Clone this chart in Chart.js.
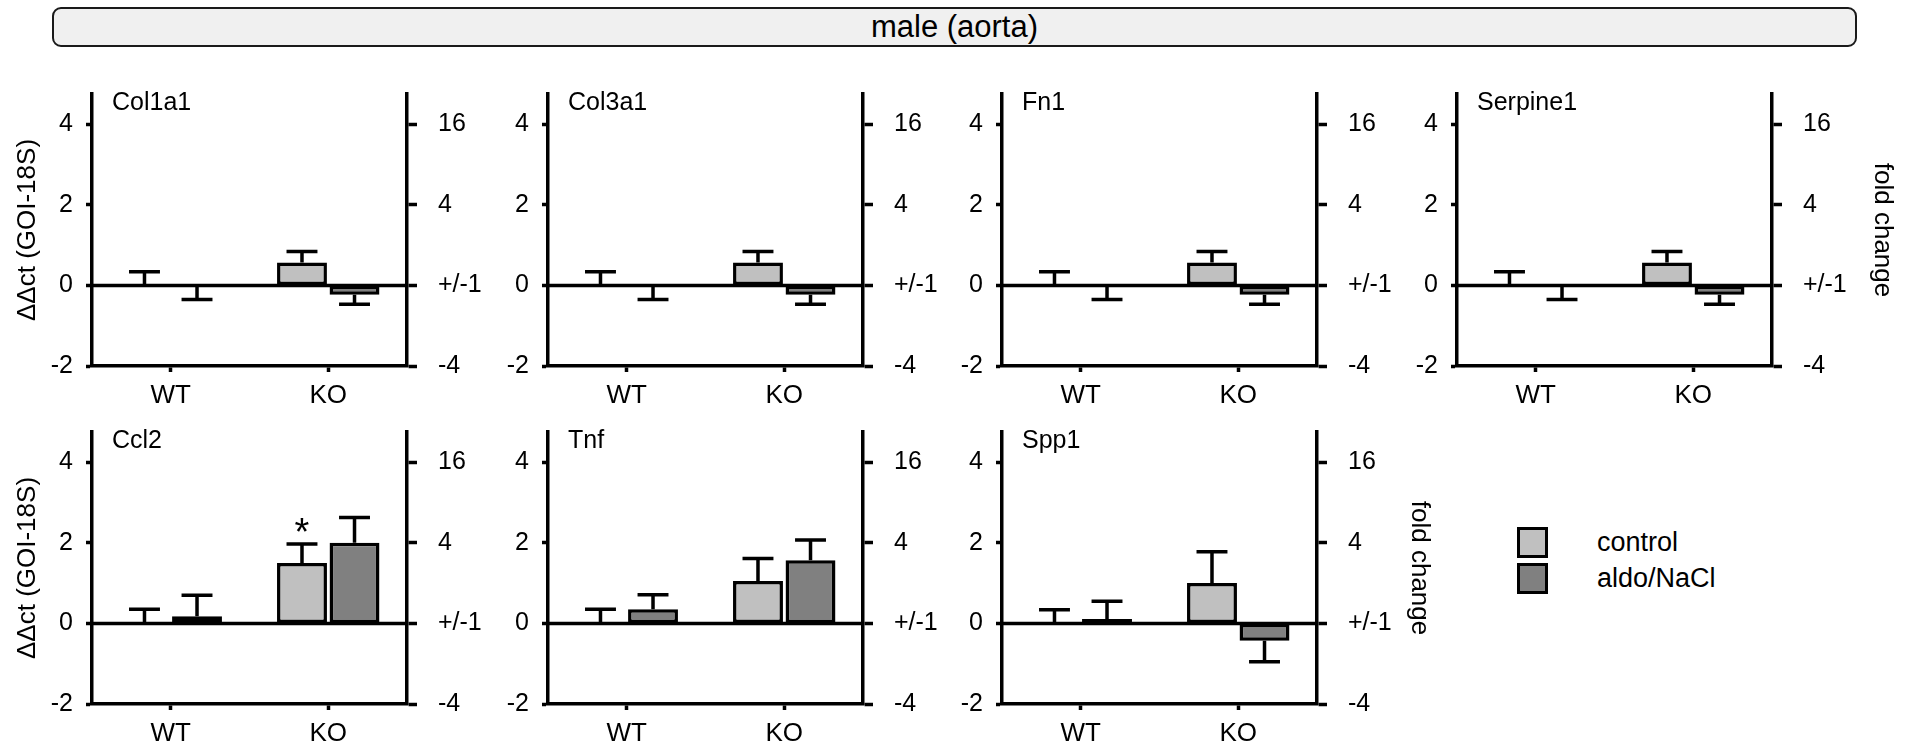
<!DOCTYPE html>
<html>
<head>
<meta charset="utf-8">
<script src="https://cdn.jsdelivr.net/npm/chart.js@4.4.1/dist/chart.umd.min.js"></script>
<style>
  body { margin: 0; background: #fff; width: 1907px; height: 752px; position: relative; overflow: hidden;
         font-family: "Liberation Sans", Arial, sans-serif; color: #000; }
  #header { position: absolute; left: 52px; top: 7px; width: 1805px; height: 40px; box-sizing: border-box;
            border: 2px solid #1a1a1a; border-radius: 9px; background: #f0f0f0;
            text-align: center; font-size: 31px; line-height: 35px; }
  .panel { position: absolute; }
  .panel canvas { display: block; }
  #legend { position: absolute; left: 1517px; top: 527px; }
  .item { position: relative; height: 36px; }
  .swatch { position: absolute; left: 0; width: 31px; height: 31px; box-sizing: border-box; border: 3px solid #000; }
  .label { position: absolute; left: 80px; top: 0; font-size: 27px; line-height: 31px; white-space: nowrap; }
</style>
</head>
<body>
<div id="header">male (aorta)</div>
<div id="legend"></div>

<script>
// categories and series
const categories = ['WT', 'KO'];
const seriesNames = ['control', 'aldo/NaCl'];
const seriesColors = ['#c0c0c0', '#808080'];
const genes = ['Col1a1', 'Col3a1', 'Fn1', 'Serpine1', 'Ccl2', 'Tnf', 'Spp1'];

// ΔΔct means and SEM per gene, [WT, KO]
const controlMean = [[0, 0.57], [0, 0.57], [0, 0.57], [0, 0.57], [0, 1.5], [0, 1.05], [0, 1.0]];
const controlErr  = [[0.34, 0.27], [0.34, 0.27], [0.34, 0.27], [0.34, 0.27], [0.35, 0.47], [0.35, 0.56], [0.34, 0.78]];
const aldoMean    = [[-0.02, -0.23], [-0.02, -0.23], [-0.02, -0.23], [-0.02, -0.23], [0.18, 2.0], [0.35, 1.57], [0.11, -0.43]];
const aldoErr     = [[0.33, 0.24], [0.33, 0.24], [0.33, 0.24], [0.33, 0.24], [0.52, 0.63], [0.36, 0.5], [0.44, 0.52]];
const controlMarks = [['', ''], ['', ''], ['', ''], ['', ''], ['', '*'], ['', ''], ['', '']];

// axis ticks
const leftTicks = [-2, 0, 2, 4];
const rightTickLabels = ['-4', '+/-1', '4', '16'];

Chart.defaults.font.family = '"Liberation Sans", Arial, sans-serif';
Chart.defaults.color = '#000';

const LW = 3.5;

// error bars, zero line, significance marks and gene name
const panelDecor = {
  id: 'panelDecor',
  afterDatasetsDraw(chart, args, opts) {
    const { ctx, chartArea, scales } = chart;
    const y = scales.y;
    ctx.save();
    ctx.strokeStyle = '#000';
    ctx.fillStyle = '#000';
    ctx.lineWidth = LW;
    const y0 = y.getPixelForValue(0);
    ctx.beginPath();
    ctx.moveTo(chartArea.left, y0);
    ctx.lineTo(chartArea.right, y0);
    ctx.stroke();

    chart.data.datasets.forEach((ds, di) => {
      chart.getDatasetMeta(di).data.forEach((bar, i) => {
        const m = ds.data[i], e = ds.err[i];
        const end = y.getPixelForValue(m < 0 ? m - e : m + e);
        const half = bar.width * 0.31;
        ctx.beginPath();
        ctx.moveTo(bar.x, bar.y);
        ctx.lineTo(bar.x, end);
        ctx.moveTo(bar.x - half, end);
        ctx.lineTo(bar.x + half, end);
        ctx.stroke();
        if (ds.marks && ds.marks[i]) {
          ctx.font = '38px "Liberation Sans", Arial, sans-serif';
          ctx.textAlign = 'center';
          ctx.textBaseline = 'alphabetic';
          ctx.fillText(ds.marks[i], bar.x, end + 1);
        }
      });
    });

    ctx.font = '25px "Liberation Sans", Arial, sans-serif';
    ctx.textAlign = 'left';
    ctx.textBaseline = 'alphabetic';
    ctx.fillText(opts.gene, chartArea.left + 20, chartArea.top + 16);
    ctx.restore();
  }
};

// panel layout: left axis x per column, axis top per row
const colAxisX = [92, 548, 1002, 1457];
const rowAxisTop = [94, 432];
const plotW = 315, plotH = 272, leftW = 92, xAxisH = 60;

function axisLine() {
  return { display: true, width: LW, color: '#000' };
}

genes.forEach((gene, g) => {
  const col = g % 4, row = Math.floor(g / 4);
  const showLeftTitle = col === 0;
  const showFold = (row === 0 && col === 3) || (row === 1 && col === 2);
  const rightW = showFold ? (row === 0 ? 126 : 118) : 95;

  const wrap = document.createElement('div');
  wrap.className = 'panel';
  const canvas = document.createElement('canvas');
  canvas.width = leftW + plotW + rightW;
  canvas.height = 20 + plotH + xAxisH;
  wrap.appendChild(canvas);
  document.body.appendChild(wrap);

  const chart = new Chart(canvas.getContext('2d'), {
    type: 'bar',
    data: {
      labels: categories,
      datasets: [
        { label: seriesNames[0], data: controlMean[g], err: controlErr[g], marks: controlMarks[g],
          backgroundColor: seriesColors[0], borderColor: '#000', borderWidth: LW, borderSkipped: false,
          categoryPercentage: 0.667, barPercentage: 0.95 },
        { label: seriesNames[1], data: aldoMean[g], err: aldoErr[g],
          backgroundColor: seriesColors[1], borderColor: '#000', borderWidth: LW, borderSkipped: false,
          categoryPercentage: 0.667, barPercentage: 0.95 }
      ]
    },
    options: {
      responsive: false,
      maintainAspectRatio: false,
      animation: false,
      layout: { padding: 0 },
      plugins: { legend: { display: false }, tooltip: { enabled: false }, panelDecor: { gene } },
      scales: {
        x: {
          grid: { offset: false, drawOnChartArea: false, drawTicks: true, tickLength: 6, tickWidth: LW, tickColor: '#000' },
          border: axisLine(),
          ticks: { font: { size: 26 }, padding: 8 },
          afterFit: s => { s.height = xAxisH; }
        },
        y: {
          min: -2, max: 4.75,
          afterBuildTicks: s => { s.ticks = leftTicks.map(v => ({ value: v })); },
          grid: { drawOnChartArea: false, tickLength: 6, tickWidth: LW, tickColor: '#000' },
          border: axisLine(),
          ticks: { font: { size: 25 }, padding: 13 },
          title: { display: showLeftTitle, text: 'ΔΔct (GOI-18S)', font: { size: 26 }, padding: { top: 12, bottom: 0 } },
          afterFit: s => { s.width = leftW; }
        },
        y2: {
          position: 'right',
          min: -2, max: 4.75,
          afterBuildTicks: s => { s.ticks = leftTicks.map(v => ({ value: v })); },
          grid: { drawOnChartArea: false, tickLength: 10, tickWidth: LW, tickColor: '#000' },
          border: axisLine(),
          ticks: { font: { size: 25 }, padding: 21, callback: (v, i) => rightTickLabels[i] },
          title: { display: showFold, text: 'fold change', font: { size: 26 }, padding: { top: 0, bottom: 0 } },
          afterFit: s => { s.width = rightW; }
        }
      }
    },
    plugins: [panelDecor]
  });

  // make the plot area exactly plotH tall, then place it on the page grid
  const dh = plotH - (chart.chartArea.bottom - chart.chartArea.top);
  if (Math.abs(dh) > 0.5) chart.resize(canvas.width, canvas.height + dh);
  wrap.style.left = (colAxisX[col] - chart.chartArea.left) + 'px';
  wrap.style.top = (rowAxisTop[row] - chart.chartArea.top) + 'px';
});

// legend
const legend = document.getElementById('legend');
seriesNames.forEach((name, i) => {
  const item = document.createElement('div');
  item.className = 'item';
  item.innerHTML = `<div class="swatch" style="background:${seriesColors[i]}"></div><div class="label">${name}</div>`;
  legend.appendChild(item);
});
</script>
</body>
</html>
